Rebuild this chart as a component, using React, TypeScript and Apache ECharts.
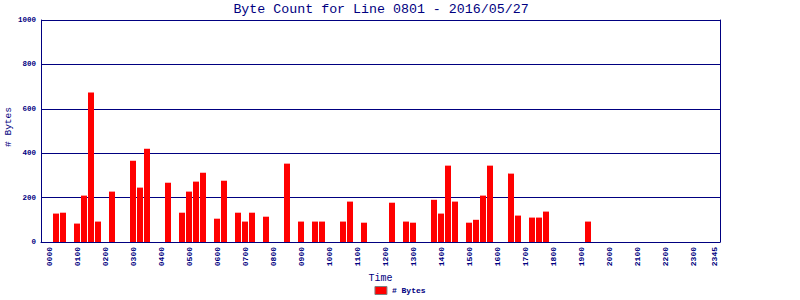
import React, { useEffect, useRef } from "react";
import * as echarts from "echarts";

const chartTitle = "Byte Count for Line 0801 - 2016/05/27";
const xAxisName = "Time";
const yAxisName = "# Bytes";
const seriesName = "# Bytes";

const timeLabels = [
  "0000", "0015", "0030", "0045", "0100", "0115", "0130", "0145",
  "0200", "0215", "0230", "0245", "0300", "0315", "0330", "0345",
  "0400", "0415", "0430", "0445", "0500", "0515", "0530", "0545",
  "0600", "0615", "0630", "0645", "0700", "0715", "0730", "0745",
  "0800", "0815", "0830", "0845", "0900", "0915", "0930", "0945",
  "1000", "1015", "1030", "1045", "1100", "1115", "1130", "1145",
  "1200", "1215", "1230", "1245", "1300", "1315", "1330", "1345",
  "1400", "1415", "1430", "1445", "1500", "1515", "1530", "1545",
  "1600", "1615", "1630", "1645", "1700", "1715", "1730", "1745",
  "1800", "1815", "1830", "1845", "1900", "1915", "1930", "1945",
  "2000", "2015", "2030", "2045", "2100", "2115", "2130", "2145",
  "2200", "2215", "2230", "2245", "2300", "2315", "2330", "2345",
];

const byteCounts = [
  0, 128, 132, 0, 83, 209, 673, 92, 0, 227, 0, 0, 366, 245, 420, 0,
  0, 267, 0, 132, 227, 272, 312, 0, 105, 276, 0, 132, 92, 132, 0, 114,
  0, 0, 353, 0, 92, 0, 92, 92, 0, 0, 92, 182, 0, 87, 0, 0,
  0, 177, 0, 92, 87, 0, 0, 190, 128, 344, 182, 0, 87, 100, 209, 344,
  0, 0, 308, 119, 0, 110, 110, 137, 0, 0, 0, 0, 0, 92, 0, 0,
  0, 0, 0, 0, 0, 0, 0, 0, 0, 0, 0, 0, 0, 0, 0, 0,
];

const yMin = 0;
const yMax = 1000;
const yStep = 200;

const NAVY = "#000080";
const MONO = "'Liberation Mono', 'DejaVu Sans Mono', monospace";

export default function App() {
  const ref = useRef<HTMLDivElement>(null);

  useEffect(() => {
    document.body.style.margin = "0";
    const chart = echarts.init(ref.current!, null, { renderer: "svg" });
    chart.setOption({
      animation: false,
      backgroundColor: "#ffffff",
      title: {
        text: chartTitle,
        left: 376,
        textAlign: "center",
        top: -2,
        textStyle: {
          fontFamily: MONO,
          fontSize: 13.3,
          fontWeight: "normal",
          color: NAVY,
        },
      },
      legend: {
        data: [seriesName],
        bottom: 0,
        left: "center",
        icon: "rect",
        itemWidth: 12,
        itemHeight: 8,
        itemGap: 10,
        itemStyle: { borderColor: "#808080", borderWidth: 1 },
        textStyle: {
          fontFamily: MONO,
          fontSize: 8,
          fontWeight: "bold",
          color: NAVY,
        },
      },
      graphic: [
        {
          type: "text",
          x: 8,
          y: 127,
          rotation: Math.PI / 2,
          style: {
            text: yAxisName,
            fill: NAVY,
            font: `9.5px ${MONO}`,
            align: "center",
            verticalAlign: "middle",
          },
        },
      ],
      grid: [
        { left: 41, top: 20, width: 679, height: 222, containLabel: false, outerBoundsMode: "none" },
        { left: 45.5, top: 20, width: 672, height: 222, containLabel: false, outerBoundsMode: "none" },
      ],
      xAxis: [
        {
          gridIndex: 0,
          type: "category",
          data: timeLabels,
          axisLine: { show: true, lineStyle: { color: NAVY, width: 1 } },
          axisTick: { show: false },
          axisLabel: { show: false },
          splitLine: { show: false },
          name: xAxisName,
          nameLocation: "middle",
          nameGap: 31,
          nameTextStyle: {
            fontFamily: MONO,
            fontSize: 10,
            color: NAVY,
          },
        },
        {
          gridIndex: 1,
          type: "category",
          data: timeLabels,
          axisLine: { show: false },
          axisTick: { show: false },
          splitLine: { show: false },
          axisLabel: {
            rotate: 90,
            margin: 5,
            interval: (i: number) => i % 4 === 0 || i === timeLabels.length - 1,
            fontFamily: MONO,
            fontSize: 8,
            fontWeight: "bold",
            color: NAVY,
          },
        },
      ],
      yAxis: [
        {
          gridIndex: 0,
          type: "value",
          min: yMin,
          max: yMax,
          interval: yStep,
          axisLine: { show: true, lineStyle: { color: NAVY, width: 1 } },
          axisTick: { show: false },
          splitLine: { show: true, lineStyle: { color: NAVY, width: 1 } },
          axisLabel: {
            margin: 5,
            formatter: (v: number) => String(v),
            fontFamily: MONO,
            fontSize: 7.5,
            fontWeight: "bold",
            color: NAVY,
          },
        },
        {
          gridIndex: 0,
          type: "value",
          position: "right",
          min: yMin,
          max: yMax,
          interval: yStep,
          axisLine: { show: true, lineStyle: { color: NAVY, width: 1 } },
          axisTick: { show: false },
          axisLabel: { show: false },
          splitLine: { show: false },
        },
        {
          gridIndex: 1,
          type: "value",
          min: yMin,
          max: yMax,
          show: false,
          splitLine: { show: false },
        },
      ],
      series: [
        {
          type: "bar",
          name: seriesName,
          xAxisIndex: 1,
          yAxisIndex: 2,
          data: byteCounts,
          barWidth: 6,
          itemStyle: { color: "#ff0000" },
        },
      ],
    });
    return () => chart.dispose();
  }, []);

  return <div ref={ref} style={{ width: 800, height: 300 }} />;
}
